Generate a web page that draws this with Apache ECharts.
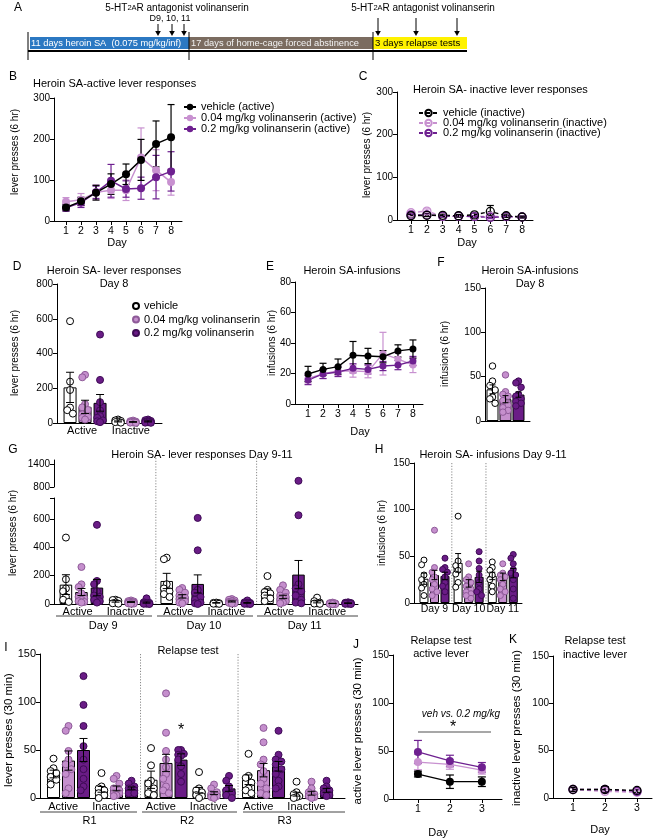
<!DOCTYPE html>
<html><head><meta charset="utf-8">
<script src="https://cdn.jsdelivr.net/npm/echarts@6/dist/echarts.min.js"></script>
<style>html,body{margin:0;padding:0;background:#fff}#c{width:658px;height:840px}</style>
</head><body><div id="c"></div><script>
// ================= DATA =================
// B / C / E : 8 SA days
const daysSA = [1,2,3,4,5,6,7,8];
// B active lever
const bVehMean = [33,48,69,90,114,149,188,204], bVehSem = [8,10,18,25,25,50,56,80];
const bLowMean = [47,52,70,75,75,155,124,95],  bLowSem = [10,15,18,20,25,72,50,32];
const bHighMean = [32,45,70,98,78,80,107,121], bHighSem = [8,12,15,40,20,27,53,48];
// C inactive lever
const cVehMean = [10,11,11,10,12,20,10,7], cVehSem = [3,3,3,3,4,14,4,2];
const cLowMean = [17,21,8,9,8,9,8,7],      cLowSem = [4,5,2,2,2,2,2,2];
const cHighMean = [12,12,9,9,8,6,8,7],     cHighSem = [3,3,2,2,2,2,2,2];
// E infusions
const eVehMean = [19.7,22.7,24.5,32,31.5,31,34.8,36], eVehSem = [5,4,5,9,5,4,4,6];
const eLowMean = [16.8,19.7,21.8,21.6,21.2,33,29.4,25.6], eLowSem = [3,3,3,4,4,14,4,5];
const eHighMean = [15.7,19.7,21,23.4,22.7,24.9,25.5,28.2], eHighSem = [3,3,3,3,3,3,3,3];
// D Day 8 lever responses: groups = Active, Inactive
const dGroups = ['Active','Inactive'];
const dVehMean = [205,9], dVehSem = [87,3];
const dLowMean = [93,6],  dLowSem = [38,2];
const dHighMean = [116,9], dHighSem = [48,3];
const dVehDots = [[586,238,190,89,74,54],[20,15,12,8,5,2]];
const dLowDots = [[277,263,108,90,75,50,35,30,20],[14,10,8,6,5,4,3,2,1]];
const dHighDots = [[509,248,120,73,40,30,15,10,5],[20,16,12,9,7,5,4,2,1]];
// F Day 8 infusions
const fMean = [35.7,24.6,29.8], fSem = [5,4,3];
const fVehDots = [62,45,40,35,27,25,20];
const fLowDots = [52,33,30,28,23,18,15,12,10];
const fHighDots = [45,43,38,30,28,25,22,20,17];
// G lever responses day 9-11: groups = D9 Act, D9 Inact, D10 Act, D10 Inact, D11 Act, D11 Inact
const gSections = ['Day 9','Day 10','Day 11'];
const gVehMean = [137,18,163,8,85,15], gVehSem = [70,5,54,2,22,7];
const gLowMean = [85,14,54,18,50,4],   gLowSem = [25,3,12,4,12,1];
const gHighMean = [116,10,142,8,208,6], gHighSem = [58,4,64,3,100,2];
const gVehDots = [[470,175,110,90,50,30,15],[30,28,22,10,5,2],[328,317,140,110,90,70,50],[10,8,6,3,2,1],[198,100,85,75,60,40,20],[45,20,10,5,3,1]];
const gLowDots = [[262,139,120,75,50,40,30,20,15,10],[25,20,18,15,12,10,8,5,3,2],[113,100,80,60,45,35,25,20,10,5],[35,30,25,20,15,12,10,8,5,3],[132,100,80,60,50,40,30,20,10,5],[10,6,4,3,2,2,1,1,0,0]];
const gHighDots = [[560,163,140,90,60,50,30,20,10],[40,12,8,6,5,3,2,1,0],[609,380,100,80,50,30,10,5,0],[25,12,8,6,5,3,2,1,0],[960,628,140,110,90,60,30,10,5],[12,9,7,5,4,3,2,1,0]];
// H infusions day 9-11
const hVehMean = [26,43,29], hVehSem = [6,10,4];
const hLowMean = [30,21,28], hLowSem = [5,4,4];
const hHighMean = [29,28,32], hHighSem = [4,6,5];
const hVehDots = [[46,41,30,25,20,16,8],[93,45,40,35,31,22,17],[44,38,35,30,25,18,12]];
const hLowDots = [[78,38,33,28,25,20,15,12,8],[42,28,25,22,18,15,12,10,8,5],[42,32,30,28,25,20,15,12,8]];
const hHighDots = [[48,38,36,33,28,22,18,12],[55,45,37,30,22,15,12,8],[52,48,42,36,32,30,25,15,5]];
// I relapse tests: groups = R1 Act, R1 Inact, R2 Act, R2 Inact, R3 Act, R3 Inact
const iSections = ['R1','R2','R3'];
const iVehMean = [25,9,19,8,19,4],      iVehSem = [4,3,9,3,5,2];
const iLowMean = [39,10,36.5,5,29,5],   iLowSem = [10,2.5,9,1.5,7,2];
const iHighMean = [50,10,40,10,33,8],   iHighSem = [12,1.5,6,3,5,2];
const iVehDots = [[41,31,28,26,22,19,14],[26,12,10,8,5,3,0],[52,34,18,15,10,5,3],[27,10,8,6,3,2,0],[46,23,21,16,10,8,5],[17,6,4,2,1,0]];
const iLowDots = [[75,70,49,40,35,30,25,10,5],[23,20,15,10,8,5,5,3,2],[109,68,49,40,32,25,20,12,8,5],[14,10,6,4,3,2,1,0],[73,58,40,35,28,20,15,10,5,3],[17,10,6,4,3,2,1,0]];
const iHighDots = [[127,97,75,54,40,30,20,12,8],[18,15,12,10,10,8,7,5,5],[50,50,46,45,44,40,33,25,17],[23,18,12,8,5,3,0],[70,45,40,38,35,30,25,18,12,10],[18,12,10,8,5,3,2]];
const iStar = [70]; // significance marker height (R2, 0.2 mg/kg active)
// J / K relapse days
const daysR = [1,2,3];
const jVehMean = [26,18,18], jVehSem = [3,7,5];
const jLowMean = [38.5,36,30], jLowSem = [8,5,4];
const jHighMean = [49,39.6,33], jHighSem = [12,6,5];
const kVehMean = [9,9,8], kVehSem = [2,3,2];
const kLowMean = [9,7,6], kLowSem = [2,2,2];
const kHighMean = [9,9,7], kHighSem = [2,2,2];

// ================= STYLE =================
const FONT = 'Liberation Sans, Arial, sans-serif';
const LINE = {veh:'#000000', low:'#c891d0', high:'#6e2090'};
const FILL = {veh:'#ffffff', low:'#c58fcd', high:'#6a1c86'};
const EDGE = {veh:'#000000', low:'#8e5a98', high:'#3e0b55'};

const grids=[], xAxis=[], yAxis=[], series=[], G=[];

function lookupFmt(pairs){
  return function(v){ for(const p of pairs){ if(Math.abs(p[0]-v)<1e-6) return p[1]; } return ''; };
}
function addPanel(p){
  grids.push({left:p.rect[0], top:p.rect[1], width:p.rect[2], height:p.rect[3], containLabel:false, outerBoundsMode:'none'});
  const gi = grids.length-1;
  const xl = p.xLabels || null;
  xAxis.push({gridIndex:gi, type:'value', min:p.xMin, max:p.xMax, splitLine:{show:false},
    axisLine:{show:p.xLine!==false, onZero:false, lineStyle:{color:'#000', width:1}},
    axisTick:{show:!!p.xTicks, customValues:p.xTicks||[], length:4, lineStyle:{color:'#000'}},
    axisLabel:{show:!!xl, customValues: xl? xl.map(a=>a[0]) : [], formatter: xl? lookupFmt(xl) : '',
      color:'#000', fontSize:p.xFont||10.5, fontFamily:FONT, margin:p.xMargin==null?5:p.xMargin}});
  const xi = xAxis.length-1;
  if (p.xLabels2){
    xAxis.push({gridIndex:gi, type:'value', min:p.xMin, max:p.xMax, position:'bottom', offset:p.offset2,
      splitLine:{show:false}, axisLine:{show:false}, axisTick:{show:false},
      axisLabel:{show:true, customValues:p.xLabels2.map(a=>a[0]), formatter:lookupFmt(p.xLabels2),
        color:'#000', fontSize:p.xFont||10.5, fontFamily:FONT, margin:p.xMargin==null?5:p.xMargin}});
  }
  yAxis.push({gridIndex:gi, type:'value', min:p.yMin, max:p.yMax, splitLine:{show:false},
    axisLine:{show:true, onZero:false, lineStyle:{color:'#000', width:1}},
    axisTick:{show:true, customValues:p.yTicks, length:4, lineStyle:{color:'#000'}},
    axisLabel:{show:true, customValues:p.yLabels||p.yTicks, formatter:(v)=>String(v), color:'#000', fontSize:p.yFont||10, fontFamily:FONT, margin:4}});
  const yi = yAxis.length-1;
  return {gi, xi, yi, p};
}
function errSeries(ax, data, color, cap, lw, z){
  return {type:'custom', xAxisIndex:ax.xi, yAxisIndex:ax.yi, z:z, silent:true, clip:false, animation:false,
    data:data, encode:{x:0, y:[1,2]},
    renderItem(params, api){
      const x = api.value(0);
      const lo = api.coord([x, api.value(1)]), hi = api.coord([x, api.value(2)]);
      const st = {stroke:color, lineWidth:lw, fill:null};
      return {type:'group', children:[
        {type:'line', shape:{x1:lo[0],y1:lo[1],x2:hi[0],y2:hi[1]}, style:st},
        {type:'line', shape:{x1:hi[0]-cap,y1:hi[1],x2:hi[0]+cap,y2:hi[1]}, style:st},
        {type:'line', shape:{x1:lo[0]-cap,y1:lo[1],x2:lo[0]+cap,y2:lo[1]}, style:st}]};
    }};
}
function sepSeries(ax, xs, extendTop){
  return {type:'custom', xAxisIndex:ax.xi, yAxisIndex:ax.yi, z:1, silent:true, clip:false, animation:false,
    data:xs.map(x=>[x]), encode:{x:0},
    renderItem(params, api){
      const x = api.value(0);
      const t = api.coord([x, ax.p.yMax]), b = api.coord([x, ax.p.yMin]);
      return {type:'line', shape:{x1:t[0], y1:t[1]-(extendTop||0), x2:b[0], y2:b[1]},
        style:{stroke:'#8a8a8a', lineWidth:1, lineDash:[1.2,1.6]}};
    }};
}
function starSeries(ax, pts){
  return {type:'custom', xAxisIndex:ax.xi, yAxisIndex:ax.yi, z:6, silent:true, clip:false, animation:false,
    data:pts, encode:{x:0, y:1},
    renderItem(params, api){
      const c = api.coord([api.value(0), api.value(1)]);
      return {type:'text', x:c[0], y:c[1], style:{text:'*', fontSize:16, fontFamily:FONT, fill:'#000', align:'center', verticalAlign:'middle'}};
    }};
}
function lineSet(ax, xs, sets, o){
  sets.forEach(s=>{
    const col = LINE[s.key];
    series.push(errSeries(ax, xs.map((x,i)=>[x, s.mean[i]-s.sem[i], s.mean[i]+s.sem[i]]), col, o.cap, o.elw||1.2, 2));
    series.push({type:'line', name:s.name, xAxisIndex:ax.xi, yAxisIndex:ax.yi, data:xs.map((x,i)=>[x, s.mean[i]]),
      symbol:'circle', symbolSize:o.size, showSymbol:true, clip:false, z:3, silent:true, animation:false,
      lineStyle:{color:col, width:o.lw, type:o.dashed?[4,3]:'solid'},
      itemStyle:o.open?{color:'rgba(255,255,255,0)', borderColor:col, borderWidth:1.3}:{color:col, borderWidth:0},
      emphasis:{disabled:true}});
  });
}
function swarm(vals, pxX, pxY, dia, maxPx){
  const order = vals.map((_,i)=>i).sort((a,b)=>vals[b]-vals[a]);
  const placed=[], off=new Array(vals.length).fill(0);
  const cands=[0]; for(let k=1;k<=10;k++){ cands.push(-k*dia*0.4, k*dia*0.4); }
  for(const i of order){
    const y = vals[i]*pxY;
    let chosen=null, bestC=0, bestD=-1;
    for(const c of cands){
      if(Math.abs(c)>maxPx) continue;
      let md=Infinity; for(const q of placed){ md=Math.min(md, Math.hypot(q[0]-c, q[1]-y)); }
      if(md>=dia*0.8){ chosen=c; break; }
      if(md>bestD){ bestD=md; bestC=c; }
    }
    if(chosen===null) chosen=bestC;
    placed.push([chosen,y]); off[i]=chosen/pxX;
  }
  return off;
}
// bar + dots panel
function barSet(ax, groupX, sets, o){
  const p = ax.p;
  const pxX = p.rect[2]/(p.xMax-p.xMin), pxY = p.rect[3]/(p.yMax-p.yMin);
  const bars=[], errs=[];
  sets.forEach((s,d)=>{
    s.mean.forEach((m,g)=>{
      bars.push({value:[groupX[g]+d, m], itemStyle:{color:FILL[s.key], borderColor:'#000', borderWidth:1}});
      errs.push([groupX[g]+d, Math.max(p.yMin, m-s.sem[g]), m+s.sem[g]]);
    });
  });
  series.push({type:'bar', xAxisIndex:ax.xi, yAxisIndex:ax.yi, barWidth:o.barW, data:bars, z:2, silent:true, animation:false});
  sets.forEach((s,d)=>{
    const lo=[], hi=[];
    s.dots.forEach((arr,g)=>{
      const off = swarm(arr, pxX, pxY, o.dot, o.spread);
      arr.forEach((v,i)=>{
        const pt=[groupX[g]+d+off[i], v];
        if(o.upper && v>p.yMax) hi.push(pt); else lo.push(pt);
      });
    });
    const st = {type:'scatter', name:s.name, symbol:'circle', symbolSize:o.dot, silent:true, clip:false, animation:false, z:3,
      itemStyle:{color:FILL[s.key], borderColor:EDGE[s.key], borderWidth:1, opacity:1}, emphasis:{disabled:true}};
    series.push(Object.assign({}, st, {xAxisIndex:ax.xi, yAxisIndex:ax.yi, data:lo}));
    if(o.upper && hi.length) series.push(Object.assign({}, st, {name:undefined, xAxisIndex:o.upper.xi, yAxisIndex:o.upper.yi, data:hi}));
  });
  series.push(errSeries(ax, errs, '#000', o.cap, 1, 4));
}
function txt(x,y,text,size,opt){
  G.push(Object.assign({type:'text', x:x, y:y, silent:true, style:Object.assign({text:text, fontSize:size, fontFamily:FONT, fill:'#000', align:'center', verticalAlign:'middle'}, opt&&opt.style||{})}, opt&&opt.el||{}));
}
function vtxt(x,y,text,size){ txt(x,y,text,size,{el:{rotation:Math.PI/2}}); }
function hline(x1,x2,y,col,w){ G.push({type:'line', silent:true, shape:{x1:x1,y1:y,x2:x2,y2:y}, style:{stroke:col||'#000', lineWidth:w||1}}); }
function vline(x,y1,y2,col,w){ G.push({type:'line', silent:true, shape:{x1:x,y1:y1,x2:x,y2:y2}, style:{stroke:col||'#000', lineWidth:w||1}}); }
function arrow(x,y1,y2){ vline(x,y1,y2-4); G.push({type:'polygon', silent:true, shape:{points:[[x-2.8,y2-5],[x+2.8,y2-5],[x,y2]]}, style:{fill:'#000'}}); }

// ================= PANEL A (timeline) =================
txt(18,8,'A',12);
const ttl = {style:{text:'5-HT{s|2A}R antagonist volinanserin', rich:{s:{fontSize:7.5, fontFamily:FONT, fill:'#000'}}}};
txt(177,8,'',10,ttl); txt(423,8,'',10,ttl);
txt(170,19,'D9, 10, 11',9);
[158,172,184].forEach(x=>arrow(x,24,36));
[378,416,457].forEach(x=>arrow(x,18,36));
G.push({type:'rect', silent:true, shape:{x:30,y:37,width:159,height:12}, style:{fill:'#2b78c2'}});
G.push({type:'rect', silent:true, shape:{x:189,y:37,width:184,height:12}, style:{fill:'#7b6c60'}});
G.push({type:'rect', silent:true, shape:{x:373,y:37,width:94,height:12}, style:{fill:'#fff200'}});
txt(31,43.5,'11 days heroin SA  (0.075 mg/kg/inf)',9.3,{style:{align:'left', fill:'#fff'}});
txt(191,43.5,'17 days of home-cage forced abstinence',9.3,{style:{align:'left', fill:'#f2f2f2'}});
txt(375,43.5,'3 days relapse tests',9.6,{style:{align:'left'}});
hline(28,467,51,'#000',2.2);
[28,189,373].forEach(x=>vline(x,32,60,'#000',1));

// ================= PANEL B =================
const pB = addPanel({rect:[54,98,128,123], xMin:0.2, xMax:8.73, xTicks:daysSA, xLabels:daysSA.map(d=>[d,String(d)]),
  yMin:0, yMax:300, yTicks:[0,100,200,300]});
lineSet(pB, daysSA, [
  {name:'0.04 mg/kg volinanserin (active)', key:'low', mean:bLowMean, sem:bLowSem},
  {name:'0.2 mg/kg volinanserin (active)', key:'high', mean:bHighMean, sem:bHighSem},
  {name:'vehicle (active)', key:'veh', mean:bVehMean, sem:bVehSem}], {size:8, cap:3.5, lw:1.5});
txt(13,77,'B',12); txt(33,84,'Heroin SA-active lever responses',11,{style:{align:'left'}});
vtxt(15,152,'lever presses (6 hr)',10); txt(117,243,'Day',11);

// ================= PANEL C =================
const pC = addPanel({rect:[397,92,136,128], xMin:0.117, xMax:8.69, xTicks:daysSA, xLabels:daysSA.map(d=>[d,String(d)]),
  yMin:0, yMax:300, yTicks:[0,100,200,300]});
lineSet(pC, daysSA, [
  {name:'0.04 mg/kg volinanserin (inactive)', key:'low', mean:cLowMean, sem:cLowSem},
  {name:'0.2 mg/kg volinanserin (inactive)', key:'high', mean:cHighMean, sem:cHighSem},
  {name:'vehicle (inactive)', key:'veh', mean:cVehMean, sem:cVehSem}], {size:8, cap:3.5, lw:1.4, dashed:true, open:true});
txt(363,77,'C',12); txt(413,90,'Heroin SA- inactive lever responses',11,{style:{align:'left'}});
vtxt(367,155,'lever presses (6 hr)',10); txt(467,243,'Day',11);

// ================= PANEL D =================
const dX = [0,3.2];
const pD = addPanel({rect:[57,284,105,139], xMin:-0.87, xMax:6.13, xLabels:[[0.8,dGroups[0]],[4.05,dGroups[1]]], xMargin:2, xFont:11,
  yMin:0, yMax:800, yTicks:[0,200,400,600,800]});
barSet(pD, dX, [
  {key:'veh', name:'vehicle', mean:dVehMean, sem:dVehSem, dots:dVehDots},
  {key:'low', name:'0.04 mg/kg volinanserin', mean:dLowMean, sem:dLowSem, dots:dLowDots},
  {key:'high', name:'0.2 mg/kg volinanserin', mean:dHighMean, sem:dHighSem, dots:dHighDots}], {barW:13, dot:7, spread:5.6, cap:4});
txt(17,267,'D',12); txt(114,271,'Heroin SA- lever responses',11); txt(114,284,'Day 8',11);
vtxt(15,353,'lever presses (6 hr)',10);

// ================= PANEL E =================
const pE = addPanel({rect:[295,282,128,122], xMin:0.13, xMax:8.67, xTicks:daysSA, xLabels:daysSA.map(d=>[d,String(d)]),
  yMin:0, yMax:80, yTicks:[0,20,40,60,80]});
lineSet(pE, daysSA, [
  {key:'low', mean:eLowMean, sem:eLowSem, name:'E-low'},
  {key:'high', mean:eHighMean, sem:eHighSem, name:'E-high'},
  {key:'veh', mean:eVehMean, sem:eVehSem, name:'E-veh'}], {size:7, cap:3.5, lw:1.4});
txt(270,267,'E',12); txt(352,271,'Heroin SA-infusions',11);
vtxt(272,343,'infusions (6 hr)',10); txt(360,432,'Day',11);

// ================= PANEL F =================
const pF = addPanel({rect:[485,288,45,133], xMin:-0.577, xMax:2.885, yMin:0, yMax:150, yTicks:[0,50,100,150]});
barSet(pF, [0], [
  {key:'veh', mean:[fMean[0]], sem:[fSem[0]], dots:[fVehDots]},
  {key:'low', mean:[fMean[1]], sem:[fSem[1]], dots:[fLowDots]},
  {key:'high', mean:[fMean[2]], sem:[fSem[2]], dots:[fHighDots]}], {barW:12, dot:6.5, spread:4, cap:3});
txt(441,263,'F',12); txt(530,271,'Heroin SA-infusions',11); txt(530,284,'Day 8',11);
vtxt(445,354,'infusions (6 hr)',10);

// ================= PANEL G =================
const gX = [0,3.2,6.5,9.7,13,16.2];
const gLab = []; gSections.forEach((s,k)=>{ gLab.push([k*6.5+0.75,'Active'],[k*6.5+3.85,'Inactive']); });
const gLab2 = gSections.map((s,k)=>[k*6.5+2.4, s]);
const pGu = addPanel({rect:[54,460,304,27], xMin:-0.77, xMax:18.84, xLine:false, yMin:800, yMax:1500, yTicks:[800,1400]});
const pG = addPanel({rect:[54,498,304,106], xMin:-0.77, xMax:18.84, xLabels:gLab, xLabels2:gLab2, offset2:14, xMargin:2, xFont:11,
  yMin:0, yMax:750, yTicks:[0,200,400,600,750], yLabels:[0,200,400,600]});
barSet(pG, gX, [
  {key:'veh', mean:gVehMean, sem:gVehSem, dots:gVehDots},
  {key:'low', mean:gLowMean, sem:gLowSem, dots:gLowDots},
  {key:'high', mean:gHighMean, sem:gHighSem, dots:gHighDots}], {barW:12.5, dot:7, spread:5.6, cap:4, upper:pGu});
series.push(sepSeries(pG, [5.8,12.3], 40));
txt(13,450,'G',12); txt(202,455,'Heroin SA- lever responses Day 9-11',11);
vtxt(13,533,'lever presses (6 hr)',10);
hline(56,152,616,'#444'); hline(157,253,616,'#444'); hline(257,358,616,'#444');

// ================= PANEL H =================
const hX = [0,3.25,6.5];
const pH = addPanel({rect:[414,463,108,140], xMin:-0.95, xMax:9.33, xLabels:gSections.map((s,k)=>[hX[k]+1,s]), xMargin:1, xFont:10.5,
  yMin:0, yMax:150, yTicks:[0,50,100,150]});
barSet(pH, hX, [
  {key:'veh', mean:hVehMean, sem:hVehSem, dots:hVehDots},
  {key:'low', mean:hLowMean, sem:hLowSem, dots:hLowDots},
  {key:'high', mean:hHighMean, sem:hHighSem, dots:hHighDots}], {barW:9, dot:6, spread:3.6, cap:3});
series.push(sepSeries(pH, [2.65,5.9], 0));
txt(379,450,'H',12); txt(493,455,'Heroin SA- infusions Day 9-11',11);
vtxt(382,533,'infusions (6 hr)',10);

// ================= PANEL I =================
const iX = [0,3.2,6.5,9.7,13,16.2];
const iLab = []; iSections.forEach((s,k)=>{ iLab.push([k*6.5+0.65,'Active'],[k*6.5+3.85,'Inactive']); });
const iLab2 = iSections.map((s,k)=>[k*6.5+2.4, s]);
const pI = addPanel({rect:[40,654,305,144], xMin:-0.9, xMax:19.43, xLabels:iLab, xLabels2:iLab2, offset2:14, xMargin:3, xFont:11,
  yMin:0, yMax:150, yTicks:[0,50,100,150], yFont:11});
barSet(pI, iX, [
  {key:'veh', mean:iVehMean, sem:iVehSem, dots:iVehDots},
  {key:'low', mean:iLowMean, sem:iLowSem, dots:iLowDots},
  {key:'high', mean:iHighMean, sem:iHighSem, dots:iHighDots}], {barW:13, dot:7, spread:5.6, cap:4});
series.push(sepSeries(pI, [5.8,12.3], 0));
series.push(starSeries(pI, iStar.map(v=>[iX[2]+2, v])));
txt(6,648,'I',12); txt(188,651,'Relapse test',11);
vtxt(9,730,'lever presses (30 min)',11.5);
hline(40,137,812,'#444'); hline(142,237,812,'#444'); hline(243,345,812,'#444');

// ================= PANEL J =================
const pJ = addPanel({rect:[393,655,109,144], xMin:0.22, xMax:3.63, xTicks:daysR, xLabels:daysR.map(d=>[d,String(d)]),
  yMin:0, yMax:150, yTicks:[0,50,100,150]});
lineSet(pJ, daysR, [
  {key:'low', mean:jLowMean, sem:jLowSem, name:'J-low'},
  {key:'high', mean:jHighMean, sem:jHighSem, name:'J-high'},
  {key:'veh', mean:jVehMean, sem:jVehSem, name:'J-veh'}], {size:8, cap:4, lw:1.3});
txt(356,645,'J',12); txt(441,641,'Relapse test',11); txt(441,654,'active lever',11);
vtxt(358,731,'active lever presses (30 min)',11.5); txt(438,833,'Day',11);
txt(461,714,'veh vs. 0.2 mg/kg',10,{style:{fontStyle:'italic'}});
txt(453,728,'*',16); hline(418,491,732,'#8a8a8a',1.5);

// ================= PANEL K =================
const pK = addPanel({rect:[553,656,99,142], xMin:0.375, xMax:3.47, xTicks:daysR, xLabels:daysR.map(d=>[d,String(d)]),
  yMin:0, yMax:150, yTicks:[0,50,100,150]});
lineSet(pK, daysR, [
  {key:'low', mean:kLowMean, sem:kLowSem, name:'K-low'},
  {key:'high', mean:kHighMean, sem:kHighSem, name:'K-high'},
  {key:'veh', mean:kVehMean, sem:kVehSem, name:'K-veh'}], {size:8, cap:4, lw:1.4, dashed:true, open:true});
txt(513,640,'K',12); txt(595,641,'Relapse test',11); txt(595,655,'inactive lever',11);
vtxt(517,728,'inactive lever presses (30 min)',11.5); txt(600,830,'Day',11);

// ================= LEGENDS =================
const legStyle = {fontSize:11, fontFamily:FONT, color:'#000'};
const legends = [
  {left:183, top:101.5, itemWidth:12, itemHeight:8, itemGap:0,
   data:['vehicle (active)','0.04 mg/kg volinanserin (active)','0.2 mg/kg volinanserin (active)']},
  {left:418, top:107.5, itemWidth:19, itemHeight:8, itemGap:-1,
   data:['vehicle (inactive)','0.04 mg/kg volinanserin (inactive)','0.2 mg/kg volinanserin (inactive)']},
  {left:132, top:300.5, itemWidth:6, itemHeight:6, itemGap:2.5,
   data:['vehicle','0.04 mg/kg volinanserin','0.2 mg/kg volinanserin']}
].map(l=>Object.assign({show:true, orient:'vertical', padding:0, selectedMode:false, textStyle:legStyle}, l));

const chart = echarts.init(document.getElementById('c'), null, {renderer:'canvas'});
chart.setOption({
  animation:false, backgroundColor:'#ffffff',
  textStyle:{fontFamily:FONT},
  grid:grids, xAxis:xAxis, yAxis:yAxis, series:series, legend:legends,
  graphic:{elements:G}
});
</script></body></html>
